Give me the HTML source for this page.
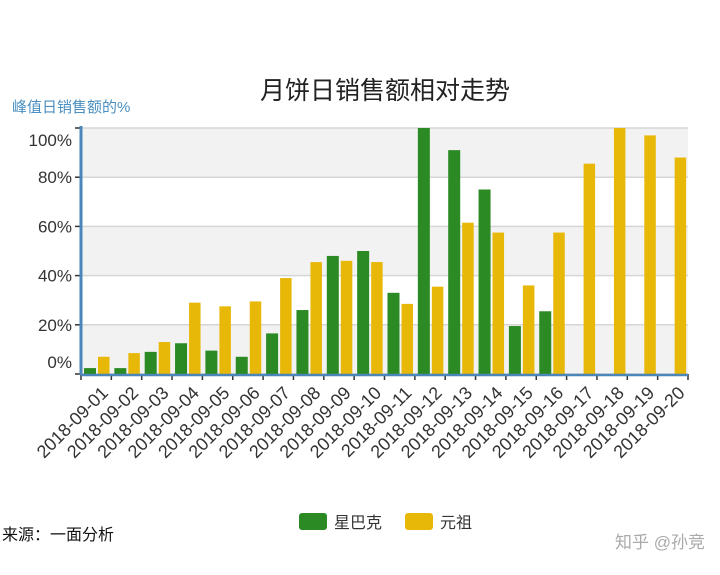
<!DOCTYPE html>
<html><head><meta charset="utf-8"><style>
body{margin:0;background:#fff;}
svg text{font-family:"Liberation Sans","Noto Sans CJK SC",sans-serif;}
</style></head><body>
<svg width="720" height="570">
<text x="385" y="99" font-size="25" text-anchor="middle" fill="#222">月饼日销售额相对走势</text>
<text x="12" y="112" font-size="15" fill="#4a8fc0">峰值日销售额的%</text>
<g id="bands"></g><g id="bars"></g><g id="axes"></g>
<g>
<rect x="299" y="513" width="28" height="17" rx="3" fill="#2b8a23"/>
<text x="334" y="528" font-size="16" fill="#333">星巴克</text>
<rect x="405" y="513" width="28" height="17" rx="3" fill="#e8b809"/>
<text x="440" y="528" font-size="16" fill="#333">元祖</text>
</g>
<text x="2" y="540" font-size="16" fill="#111">来源：一面分析</text>
<text x="615" y="548" font-size="17" fill="#aaa">知乎 @孙竞</text>
</svg>
<script>
const categories=["2018-09-01","2018-09-02","2018-09-03","2018-09-04","2018-09-05","2018-09-06","2018-09-07","2018-09-08","2018-09-09","2018-09-10","2018-09-11","2018-09-12","2018-09-13","2018-09-14","2018-09-15","2018-09-16","2018-09-17","2018-09-18","2018-09-19","2018-09-20"];
const starbucks=[2.4,2.4,9,12.5,9.5,7,16.5,26,48,50,33,100,91,75,19.5,25.5,0,0,0,0];
const yuanzu=[7,8.5,13,29,27.5,29.5,39,45.5,46,45.5,28.5,35.5,61.5,57.5,36,57.5,85.5,100,97,88];
const yTicks=[0,20,40,60,80,100];
const yTickLabels=["0%","20%","40%","60%","80%","100%"];
const NS="http://www.w3.org/2000/svg";
const L=81,R=688,T=128,B=374;
const bw=(R-L)/categories.length;
function y(v){return B-(v/100)*(B-T);}
function x(i){return L+i*bw;}
function mk(tag,attrs,parent){const e=document.createElementNS(NS,tag);for(const k in attrs)e.setAttribute(k,attrs[k]);parent.appendChild(e);return e;}
const bands=document.getElementById('bands'),bars=document.getElementById('bars'),axes=document.getElementById('axes');
for(let i=0;i<yTicks.length-1;i++){
  const r=mk('rect',{x:L,y:y(yTicks[i+1]),width:R-L,height:y(yTicks[i])-y(yTicks[i+1]),fill:(i%2===0)?'#f2f2f2':'#fff'},bands);
  
  
}
yTicks.forEach((t,i)=>{
  const g=mk('line',{x1:L,x2:R,y1:y(t),y2:y(t),stroke:'#d6d6d6','stroke-width':1.5},bands);
  
  
  mk('line',{x1:L-6,x2:L,y1:y(t),y2:y(t),stroke:'#333','stroke-width':1.5},axes);
  let ly=y(t)+6; if(i===0)ly-=12; if(i===yTicks.length-1)ly+=12;
  const tx=mk('text',{x:L-9,y:ly,'font-size':17,'text-anchor':'end',fill:'#333'},axes);
  tx.textContent=yTickLabels[i];
  
  
});
categories.forEach((c,i)=>{
  const g=mk('rect',{x:x(i)+3,y:y(starbucks[i]),width:12,height:B-y(starbucks[i]),fill:'#2b8a23'},bars);
  
  
  const yb=mk('rect',{x:x(i)+17,y:y(yuanzu[i]),width:11.5,height:B-y(yuanzu[i]),fill:'#e8b809'},bars);
  
  
  mk('line',{x1:x(i),x2:x(i),y1:B,y2:B+6,stroke:'#333','stroke-width':1.5},axes);
  const cx=x(i)+bw/2+13, cy=394;
  const t=mk('text',{x:cx,y:cy,'font-size':18,'text-anchor':'end',fill:'#333',transform:`rotate(-45 ${cx} ${cy})`},axes);
  t.textContent=c;
  
  
});
mk('line',{x1:R,x2:R,y1:B,y2:B+6,stroke:'#333','stroke-width':1.5},axes);
const ya=mk('line',{x1:L,x2:L,y1:T-2,y2:B+1,stroke:'#4a86b8','stroke-width':3},axes);


const xa=mk('line',{x1:L,x2:R,y1:B+1,y2:B+1,stroke:'#4a86b8','stroke-width':2.5},axes);


</script>
</body></html>
